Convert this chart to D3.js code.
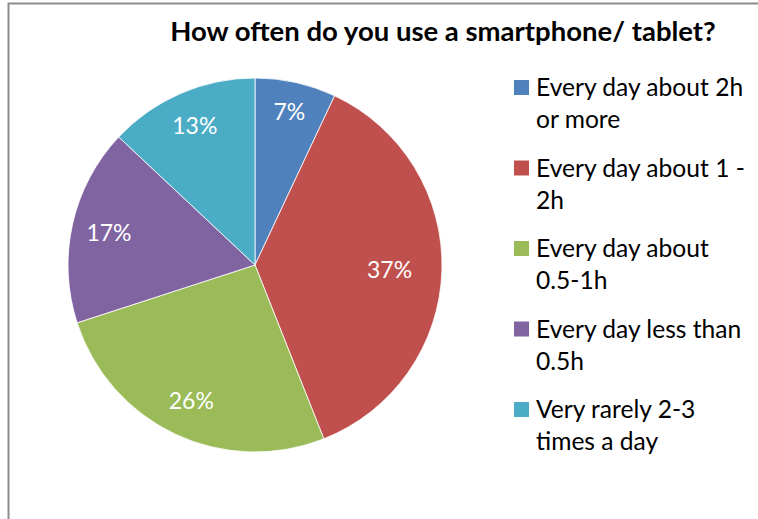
<!DOCTYPE html>
<html>
<head>
<meta charset="utf-8">
<script src="https://cdn.jsdelivr.net/npm/d3@7"></script>
<style>
  html, body { margin: 0; padding: 0; background: #fff; }
  svg { display: block; }
  text { font-family: Lato, "Open Sans", sans-serif; }
</style>
</head>
<body>
<svg id="chart" width="758" height="519"></svg>
<script>
// Survey answers and their shares (percent)
const title = "How often do you use a smartphone/ tablet?";
const categories = [
  "Every day about 2h or more",
  "Every day about 1 - 2h",
  "Every day about 0.5-1h",
  "Every day less than 0.5h",
  "Very rarely 2-3 times a day"
];
const shares = [7, 37, 26, 17, 13];
const colors = ["#4F81BD", "#C0504D", "#9BBB59", "#8064A2", "#4BACC6"];

const svg = d3.select("#chart");
const W = 758, H = 519;

// frame (left and top edges show inside the view)
svg.append("rect")
  .attr("x", 8.5).attr("y", 3.5)
  .attr("width", W + 20).attr("height", H + 20)
  .attr("fill", "none").attr("stroke", "#8c8c8c").attr("stroke-width", 2);

svg.append("text")
  .attr("x", 443).attr("y", 41)
  .attr("text-anchor", "middle")
  .attr("font-size", 27.5).attr("font-weight", 700)
  .attr("fill", "#000")
  .text(title);

// pie
const cx = 255, cy = 265, R = 187;
const pie = d3.pie().sort(null).value(d => d)
  .startAngle(0).endAngle(2 * Math.PI);
const arcs = pie(shares);
const arc = d3.arc().innerRadius(0).outerRadius(R);

const g = svg.append("g").attr("transform", `translate(${cx},${cy})`);
g.selectAll("path.slice").data(arcs).join("path")
  .attr("class", "slice")
  .attr("d", arc)
  .attr("fill", (d, i) => colors[i])
  .attr("stroke", "#fff").attr("stroke-width", 0.8);

// data labels sit on a ring inside the slices; the big slice pulls its label inward
const labelFrac = [0.84, 0.72, 0.8, 0.8, 0.81];
g.selectAll("text.lbl").data(arcs).join("text")
  .attr("class", "lbl")
  .attr("transform", (d, i) => {
    const r = R * labelFrac[i];
    const a = (d.startAngle + d.endAngle) / 2;
    return `translate(${r * Math.sin(a)},${-r * Math.cos(a)})`;
  })
  .attr("text-anchor", "middle")
  .attr("dy", "0.36em")
  .attr("font-size", 23)
  .attr("fill", "#fff")
  .text(d => d.data + "%");

// legend with wrapped entries
const legX = 514, legY0 = 80, groupGap = 80.5, lineGap = 32, maxW = 214;
const legend = svg.append("g");
categories.forEach((cat, i) => {
  const y = legY0 + i * groupGap;
  legend.append("rect")
    .attr("x", legX).attr("y", y)
    .attr("width", 15).attr("height", 15)
    .attr("fill", colors[i]);
  const t = legend.append("text")
    .attr("x", legX + 22).attr("y", y + 16)
    .attr("font-size", 24.6).attr("fill", "#000");
  const words = cat.split(" ");
  let line = [];
  let ts = t.append("tspan").attr("x", legX + 22);
  words.forEach(w => {
    line.push(w);
    ts.text(line.join(" "));
    if (ts.node().getComputedTextLength() > maxW && line.length > 1) {
      line.pop();
      ts.text(line.join(" "));
      line = [w];
      ts = t.append("tspan").attr("x", legX + 22).attr("dy", lineGap).text(w);
    }
  });
});
</script>
</body>
</html>
